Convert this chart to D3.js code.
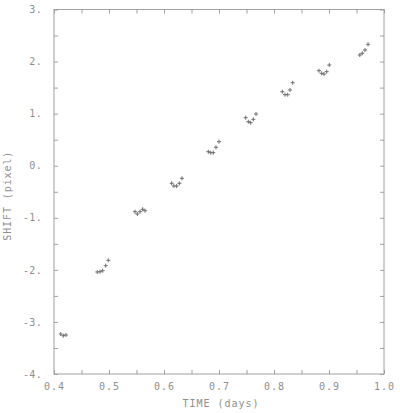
<!DOCTYPE html>
<html>
<head>
<meta charset="utf-8">
<script src="https://cdn.jsdelivr.net/npm/d3@7"></script>
<style>
  html, body { margin: 0; padding: 0; background: #fff; }
  svg { display: block; }
  text { font-family: "DejaVu Sans Mono", "Liberation Mono", monospace; fill: #8f8f8f; }
</style>
</head>
<body>
<svg id="chart" width="400" height="413"></svg>
<script>
// ---- data ----
const timeDays = [
  0.4122, 0.4169, 0.4218,
  0.4787, 0.4836, 0.4885, 0.4940, 0.4987,
  0.5473, 0.5515, 0.5564, 0.5613, 0.5655,
  0.6140, 0.6180, 0.6230, 0.6280, 0.6327,
  0.6806, 0.6850, 0.6896, 0.6945, 0.7000,
  0.7485, 0.7533, 0.7576, 0.7624, 0.7673,
  0.8151, 0.8200, 0.8249, 0.8291, 0.8340,
  0.8818, 0.8867, 0.8909, 0.8958, 0.9005,
  0.9560, 0.9605, 0.9655, 0.9710
];
const shiftPixel = [
  -3.232, -3.265, -3.251,
  -2.041, -2.036, -2.016, -1.920, -1.817,
  -0.883, -0.927, -0.883, -0.837, -0.864,
  -0.338, -0.390, -0.390, -0.338, -0.242,
  0.269, 0.250, 0.250, 0.354, 0.461,
  0.922, 0.845, 0.826, 0.891, 0.993,
  1.421, 1.364, 1.364, 1.454, 1.594,
  1.825, 1.775, 1.761, 1.806, 1.934,
  2.126, 2.159, 2.222, 2.332
];
const xDomain = [0.4, 1.0];
const yDomain = [-4, 3];
const xMajorTicks = [0.4, 0.5, 0.6, 0.7, 0.8, 0.9, 1.0];
const xMinorTicks = [0.45, 0.55, 0.65, 0.75, 0.85, 0.95];
const yMajorTicks = [-4, -3, -2, -1, 0, 1, 2, 3];
const yMinorTicks = [-3.5, -2.5, -1.5, -0.5, 0.5, 1.5, 2.5];
const xTitle = "TIME (days)";
const yTitle = "SHIFT (pixel)";

// ---- layout ----
const L = 54, R = 384, T = 9.5, B = 374;
const svg = d3.select("#chart");
const x = d3.scaleLinear().domain(xDomain).range([L, R]);
const y = d3.scaleLinear().domain(yDomain).range([B, T]);
const axisColor = "#a0a0a0";
const tick = 4;

function styleAxis(g) {
  g.selectAll(".domain").remove();
  g.selectAll("line").attr("stroke", axisColor).attr("stroke-width", 1);
  g.selectAll("text").attr("fill", "#8f8f8f").style("font-size", "10px")
    .style("font-family", "'DejaVu Sans Mono', monospace");
}

// frame
svg.append("rect").attr("x", L).attr("y", T).attr("width", R - L).attr("height", B - T)
  .attr("fill", "none").attr("stroke", axisColor).attr("stroke-width", 1);

// bottom axis (labels + inward ticks)
svg.append("g").attr("transform", `translate(0,${B})`)
  .call(d3.axisBottom(x).tickValues(xMajorTicks).tickSize(-tick).tickPadding(9)
    .tickFormat(d3.format(".1f")))
  .call(styleAxis)
  .call(g => g.selectAll("text").attr("letter-spacing", "1px"));
svg.append("g").attr("transform", `translate(0,${B})`)
  .call(d3.axisBottom(x).tickValues(xMinorTicks).tickSize(-tick).tickFormat(""))
  .call(styleAxis);
// top axis ticks
svg.append("g").attr("transform", `translate(0,${T})`)
  .call(d3.axisTop(x).tickValues(xMajorTicks.concat(xMinorTicks)).tickSize(-tick).tickFormat(""))
  .call(styleAxis);

// left axis
svg.append("g").attr("transform", `translate(${L},0)`)
  .call(d3.axisLeft(y).tickValues(yMajorTicks).tickSize(-tick).tickPadding(12)
    .tickFormat(d => d + "."))
  .call(styleAxis)
  .call(g => g.selectAll("text").attr("letter-spacing", "0.3px"));
svg.append("g").attr("transform", `translate(${L},0)`)
  .call(d3.axisLeft(y).tickValues(yMinorTicks).tickSize(-tick).tickFormat(""))
  .call(styleAxis);
// right axis ticks
svg.append("g").attr("transform", `translate(${R},0)`)
  .call(d3.axisRight(y).tickValues(yMajorTicks.concat(yMinorTicks)).tickSize(-tick).tickFormat(""))
  .call(styleAxis);

// titles
svg.append("text").attr("x", (L + R) / 2 + 2).attr("y", 407)
  .attr("text-anchor", "middle").style("font-size", "10px").attr("letter-spacing", "1px")
  .text(xTitle);
svg.append("text").attr("transform", `translate(11,${(T + B) / 2 + 4}) rotate(-90)`)
  .attr("text-anchor", "middle").style("font-size", "10px").attr("letter-spacing", "0.9px")
  .text(yTitle);

// markers "+"
const pts = timeDays.map((t, i) => ({ t, s: shiftPixel[i] }));
const m = svg.append("g").attr("stroke", "#6e6e6e").attr("stroke-width", 1);
const h = 2;
m.selectAll("g.pt").data(pts).join("g").attr("class", "pt")
  .each(function (p) {
    const cx = x(p.t), cy = y(p.s);
    const g = d3.select(this);
    g.append("line").attr("x1", cx - h).attr("x2", cx + h).attr("y1", cy).attr("y2", cy);
    g.append("line").attr("x1", cx).attr("x2", cx).attr("y1", cy - h).attr("y2", cy + h);
  });
</script>
</body>
</html>
